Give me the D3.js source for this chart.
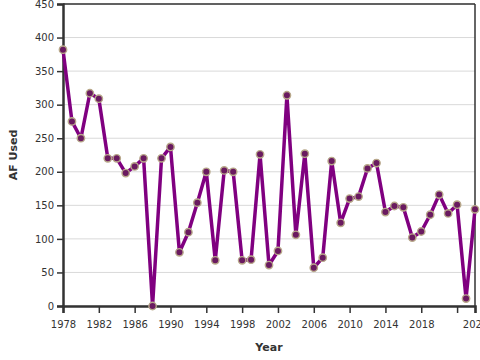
<!DOCTYPE html>
<html><head><meta charset="utf-8">
<script src="https://cdn.jsdelivr.net/npm/d3@7"></script>
<style>
body{margin:0;background:#fff;}
svg{display:block;font-family:"DejaVu Sans",Verdana,sans-serif;}
</style></head>
<body>
<script>
const years = d3.range(1978, 2025);
const afUsed = [382,275,250,317,309,220,220,198,208,220,0,220,237,80,110,154,200,68,202,200,68,69,226,61,82,314,106,227,57,72,216,124,160,163,205,213,140,149,147,102,111,136,166,138,151,11,144];
const yTicks = [0,50,100,150,200,250,300,350,400,450];
const xTicks = [1978,1982,1986,1990,1994,1998,2002,2006,2010,2014,2018,2022,2024];
const xLabelHidden = [2022];

const W = 480, H = 360;
const m = {left:63, right:5, top:4, bottom:54};
const svg = d3.select("body").append("svg").attr("width", W).attr("height", H);

const x = d3.scaleLinear().domain([1978, 2024]).range([m.left, W - m.right]);
const y = d3.scaleLinear().domain([0, 450]).range([H - m.bottom, m.top]);

// gridlines
svg.append("g").selectAll("line").data(yTicks).join("line")
  .attr("x1", m.left).attr("x2", W - m.right)
  .attr("y1", d => y(d)).attr("y2", d => y(d))
  .attr("stroke", "#d9d9d9").attr("stroke-width", 1);

// border top/right
svg.append("line").attr("x1", m.left).attr("x2", W - m.right).attr("y1", m.top).attr("y2", m.top)
  .attr("stroke", "#333").attr("stroke-width", 1.5);
svg.append("line").attr("x1", W - m.right).attr("x2", W - m.right).attr("y1", m.top).attr("y2", H - m.bottom)
  .attr("stroke", "#333").attr("stroke-width", 1.5);

// axes
const yAxis = svg.append("g").attr("transform", `translate(${m.left},0)`)
  .call(d3.axisLeft(y).tickValues(yTicks).tickSize(6).tickPadding(3));
const xAxis = svg.append("g").attr("transform", `translate(0,${H - m.bottom})`)
  .call(d3.axisBottom(x).tickValues(xTicks).tickSize(7).tickPadding(8)
    .tickFormat(d => xLabelHidden.includes(d) ? "" : String(d)));
[yAxis, xAxis].forEach(a => {
  a.select(".domain").attr("stroke", "#333").attr("stroke-width", 2.5);
  a.selectAll(".tick line").attr("stroke", "#333").attr("stroke-width", 1.5);
  a.selectAll(".tick text").attr("fill", "#333").style("font-size", "10px")
    .style("font-family", "'DejaVu Sans',Verdana,sans-serif");
});

// line
const line = d3.line().x((d, i) => x(years[i])).y(d => y(d));
svg.append("path").datum(afUsed).attr("d", line)
  .attr("fill", "none").attr("stroke", "#800080").attr("stroke-width", 3.5)
  .attr("stroke-linejoin", "round");

svg.append("g").selectAll("circle").data(afUsed).join("circle")
  .attr("cx", (d, i) => x(years[i])).attr("cy", d => y(d)).attr("r", 3.7)
  .attr("fill", "#6a1a60").attr("stroke", "#b8a88a").attr("stroke-width", 1.4);

// titles
svg.append("text").attr("x", (m.left + W - m.right) / 2).attr("y", 351)
  .attr("text-anchor", "middle").attr("fill", "#333")
  .style("font-size", "11px").style("font-weight", "bold").text("Year");
svg.append("text").attr("transform", `translate(17,${(m.top + H - m.bottom) / 2}) rotate(-90)`)
  .attr("text-anchor", "middle").attr("fill", "#333")
  .style("font-size", "11px").style("font-weight", "bold").text("AF Used");
</script>
</body></html>
